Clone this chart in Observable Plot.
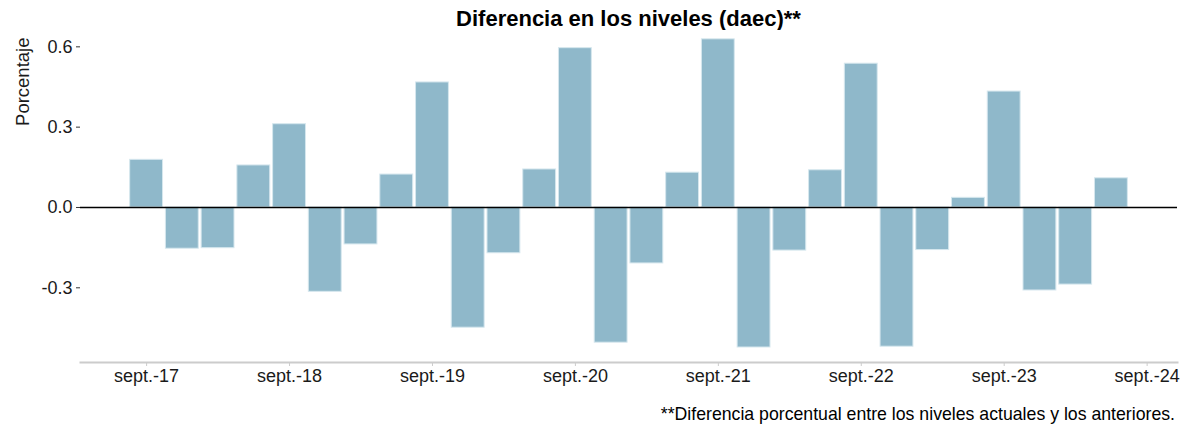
<!DOCTYPE html>
<html>
<head>
<meta charset="utf-8">
<script src="https://cdn.jsdelivr.net/npm/d3@7"></script>
<script src="https://cdn.jsdelivr.net/npm/@observablehq/plot@0.6"></script>
<style>
  html, body { margin: 0; padding: 0; background: #fff; }
  body { width: 1181px; height: 427px; position: relative; overflow: hidden; font-family: "Liberation Sans", Arial, sans-serif; }
  #title { position: absolute; top: 8px; left: 80px; width: 1097px; text-align: center; font-weight: bold; font-size: 22px; line-height: 22px; color: #000; }
  #chart { position: absolute; top: 30px; left: 0; }
  #caption { position: absolute; top: 406px; right: 6px; font-size: 17.7px; line-height: 17.7px; color: #000; }
</style>
</head>
<body>
<div id="title">Diferencia en los niveles (daec)**</div>
<div id="chart"></div>
<div id="caption">**Diferencia porcentual entre los niveles actuales y los anteriores.</div>
<script>
const quarters = [
  "sept.-17","dic.-17","mar.-18","jun.-18",
  "sept.-18","dic.-18","mar.-19","jun.-19",
  "sept.-19","dic.-19","mar.-20","jun.-20",
  "sept.-20","dic.-20","mar.-21","jun.-21",
  "sept.-21","dic.-21","mar.-22","jun.-22",
  "sept.-22","dic.-22","mar.-23","jun.-23",
  "sept.-23","dic.-23","mar.-24","jun.-24"
];
const values = [
  0.178, -0.154, -0.152, 0.157,
  0.311, -0.315, -0.138, 0.123,
  0.467, -0.449, -0.171, 0.142,
  0.595, -0.505, -0.209, 0.130,
  0.628, -0.523, -0.161, 0.139,
  0.537, -0.520, -0.159, 0.036,
  0.433, -0.310, -0.288, 0.109
];
const tickLabels = ["sept.-17","sept.-18","sept.-19","sept.-20","sept.-21","sept.-22","sept.-23","sept.-24"];
const yTicks = [-0.3, 0.0, 0.3, 0.6];

const data = quarters.map((q, i) => ({q, i, v: values[i]}));
const xTicks = tickLabels.map((_, k) => k * 4);

const chart = Plot.plot({
  width: 1181,
  height: 367,
  marginTop: 0,
  marginBottom: 35,
  marginLeft: 80,
  marginRight: 4,
  style: {fontFamily: "'Liberation Sans', Arial, sans-serif", background: "#fff"},
  x: {type: "linear", domain: [-1.85, 28.85], axis: null},
  y: {domain: [-0.579, 0.661], axis: null},
  marks: [
    Plot.rectY(data, {
      x1: d => d.i - 0.46,
      x2: d => d.i + 0.46,
      y1: 0,
      y2: "v",
      fill: "#8fb8ca",
      stroke: "#d6e7ee",
      strokeWidth: 1
    }),
    Plot.ruleY([0], {stroke: "#000", strokeWidth: 1.4}),
    Plot.frame({anchor: "bottom", stroke: "#cccccc", strokeWidth: 2}),
    Plot.axisX({
      ticks: xTicks,
      tickFormat: i => tickLabels[i / 4],
      tickSize: 4,
      tickPadding: 3,
      stroke: "#cccccc",
      fontSize: 18,
      fill: "#1a1a1a",
      label: null
    }),
    Plot.axisY({
      ticks: yTicks,
      tickFormat: d => d.toFixed(1),
      tickSize: 4,
      tickPadding: 4,
      stroke: "#333",
      fontSize: 18,
      fill: "#1a1a1a",
      label: null
    }),
    Plot.text(["Porcentaje"], {
      frameAnchor: "top-left",
      rotate: -90,
      textAnchor: "end",
      dx: -65,
      dy: 7,
      fontSize: 18.5,
      fill: "#1a1a1a"
    })
  ]
});
document.getElementById("chart").appendChild(chart);
</script>
</body>
</html>
